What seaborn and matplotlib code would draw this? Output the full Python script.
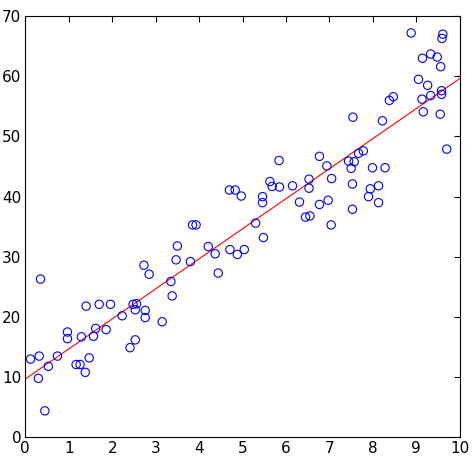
import numpy as np
import pandas as pd
import matplotlib
matplotlib.use("Agg")
import matplotlib.pyplot as plt
import seaborn as sns

# scatter data
x_vals = [0.12, 0.32, 0.35, 0.30, 0.53, 0.45, 0.74, 0.97, 0.97, 1.29,
          1.17, 1.26, 1.38, 1.47, 1.40, 1.57, 1.62, 1.70, 1.86, 1.96,
          2.23, 2.41, 2.53, 2.48, 2.56, 2.53, 2.76, 2.76, 2.73, 2.85,
          3.15, 3.35, 3.38, 3.47, 3.50, 3.80, 3.85, 3.93, 4.21, 4.37,
          4.44, 4.70, 4.83, 4.97, 4.71, 4.88, 5.04, 5.30, 5.48, 5.46,
          5.46, 5.63, 5.68, 5.85, 5.84, 6.15, 6.31, 6.45, 6.55, 6.53,
          6.53, 6.77, 6.94, 6.77, 6.97, 7.05, 7.04, 7.44, 7.57, 7.67,
          7.78, 7.50, 7.53, 7.53, 7.54, 7.99, 8.28, 8.13, 7.94, 7.90,
          8.13, 8.22, 8.38, 8.47, 8.88, 9.05, 9.14, 9.33, 9.48, 9.56,
          9.26, 9.33, 9.13, 9.16, 9.58, 9.58, 9.55, 9.70, 9.61, 9.59]
y_vals = [13.0, 13.5, 26.3, 9.8, 11.8, 4.4, 13.5, 17.5, 16.4, 16.7,
          12.1, 12.1, 10.8, 13.2, 21.8, 16.8, 18.1, 22.1, 17.9, 22.1,
          20.2, 14.9, 16.2, 22.1, 22.2, 21.2, 21.1, 19.9, 28.6, 27.1,
          19.2, 25.9, 23.5, 29.5, 31.8, 29.2, 35.3, 35.3, 31.7, 30.5,
          27.3, 41.1, 41.1, 40.1, 31.2, 30.4, 31.2, 35.6, 33.2, 40.0,
          39.0, 42.5, 41.7, 41.6, 46.0, 41.8, 39.1, 36.6, 36.8, 42.9,
          41.4, 46.7, 45.1, 38.7, 39.4, 43.0, 35.3, 45.9, 45.8, 47.2,
          47.6, 44.7, 42.1, 37.9, 53.2, 44.8, 44.8, 41.8, 41.3, 40.0,
          39.0, 52.6, 56.0, 56.6, 67.2, 59.5, 63.0, 63.7, 63.2, 61.6,
          58.5, 56.8, 56.2, 54.1, 57.6, 57.0, 53.7, 47.9, 67.0, 66.3]

x_ticks = list(range(0, 11))
y_ticks = list(range(0, 71, 10))

df = pd.DataFrame({"x": x_vals, "y": y_vals})

# least squares fit line across the full x range
slope, icpt = np.polyfit(df["x"], df["y"], 1)
line = pd.DataFrame({"x": [0, 10]})
line["y"] = icpt + slope * line["x"]

sns.set_style("white")
plt.rcParams['font.family'] = ['Liberation Sans Narrow', 'DejaVu Sans']

fig = plt.figure(figsize=(4.74, 4.74), dpi=100)
ax = fig.add_axes([0.0534, 0.0774, 0.9166, 0.8886])

sns.lineplot(data=line, x="x", y="y", color="red", linewidth=0.8, ax=ax)
sns.scatterplot(data=df, x="x", y="y", marker="o", s=36, facecolors="none",
                edgecolor="#0000ff", linewidth=0.8, ax=ax, zorder=3)

ax.set_xlim(0, 10)
ax.set_ylim(0, 70)
ax.set_xticks(x_ticks)
ax.set_yticks(y_ticks)
ax.set_xlabel("")
ax.set_ylabel("")
ax.tick_params(direction="in", length=4, width=0.8, top=True, right=True,
               labelsize=11, colors="black", pad=3)
for sp in ax.spines.values():
    sp.set_color("black")
    sp.set_linewidth(0.8)

fig.savefig("out.png", dpi=100, facecolor="white")
